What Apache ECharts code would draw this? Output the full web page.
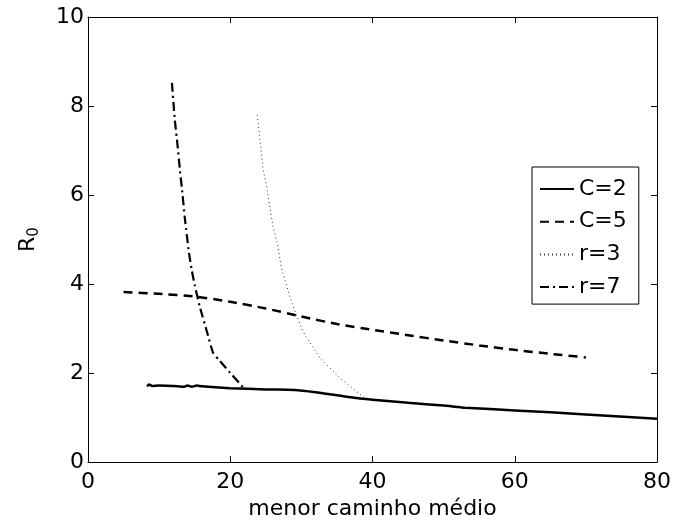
<!DOCTYPE html>
<html>
<head>
<meta charset="utf-8">
<script src="https://cdn.jsdelivr.net/npm/echarts@6/dist/echarts.min.js"></script>
<style>
  html, body { margin: 0; padding: 0; background: #fff; }
  #chart { width: 674px; height: 525px; }
</style>
</head>
<body>
<div id="chart"></div>
<script>
// Average shortest path length vs R0 for four network models
const xTicks = [0, 20, 40, 60, 80];
const yTicks = [0, 2, 4, 6, 8, 10];

const c2X = [8.3, 8.6, 9.0, 10.0, 12.0, 13.5, 14.0, 14.6, 15.3, 16.0, 20.0, 25.0, 29.0, 32.0, 35.0, 38.0, 40.0, 45.0, 50.0, 53.0, 60.0, 70.0, 80.0];
const c2Y = [1.70, 1.74, 1.71, 1.72, 1.71, 1.69, 1.72, 1.69, 1.72, 1.70, 1.66, 1.63, 1.62, 1.57, 1.50, 1.43, 1.40, 1.33, 1.27, 1.22, 1.16, 1.07, 0.97];

const c5X = [5, 10, 15, 20, 25, 30, 35, 40, 45, 50, 55, 60, 65, 70];
const c5Y = [3.82, 3.78, 3.72, 3.60, 3.45, 3.27, 3.10, 2.97, 2.85, 2.73, 2.62, 2.52, 2.43, 2.35];

const r3X = [23.8, 24.2, 24.6, 25.1, 25.5, 26.0, 26.7, 27.2, 27.9, 28.6, 29.8, 30.5, 32.7, 35.6, 38.8];
const r3Y = [7.80, 7.20, 6.60, 6.20, 5.80, 5.30, 4.85, 4.35, 3.98, 3.60, 3.10, 2.85, 2.32, 1.86, 1.45];

const r7X = [11.8, 12.2, 12.6, 12.9, 13.3, 13.6, 14.2, 14.6, 15.0, 15.7, 16.7, 17.6, 18.5, 20.0, 21.8];
const r7Y = [8.52, 7.70, 7.10, 6.60, 6.00, 5.50, 4.70, 4.30, 3.98, 3.50, 2.94, 2.45, 2.28, 2.00, 1.68];

const names = ['C=2', 'C=5', 'r=3', 'r=7'];

const zip = (xs, ys) => xs.map((x, i) => [x, ys[i]]);

const FONT = "'DejaVu Sans', Verdana, sans-serif";

const frameAxis = {
  axisLine: { show: true, onZero: false, lineStyle: { color: '#000', width: 1 } },
  axisTick: { show: true, inside: true, length: 6, lineStyle: { color: '#000' } },
  splitLine: { show: false }
};

const chart = echarts.init(document.getElementById('chart'), null, { renderer: 'canvas' });

chart.setOption({
  backgroundColor: '#fff',
  animation: false,
  textStyle: { fontFamily: FONT },
  grid: { left: 88, right: 16, top: 17, bottom: 60, containLabel: false },
  legend: {
    left: 532, top: 167,
    orient: 'vertical',
    backgroundColor: '#fff',
    borderColor: '#000', borderWidth: 1,
    padding: [10, 12, 5, 7],
    itemGap: 8.7,
    itemWidth: 34, itemHeight: 14,
    itemStyle: { opacity: 0 },
    textStyle: { fontFamily: FONT, fontSize: 22, color: '#000', lineHeight: 24 },
    data: names
  },
  xAxis: [
    Object.assign({
      type: 'value', position: 'bottom', min: xTicks[0], max: xTicks[xTicks.length - 1], interval: 20,
      name: 'menor caminho médio', nameLocation: 'middle', nameGap: 36,
      nameTextStyle: { fontFamily: FONT, fontSize: 22, color: '#000' },
      axisLabel: { fontFamily: FONT, fontSize: 22, color: '#000', margin: 9 }
    }, frameAxis),
    Object.assign({
      type: 'value', position: 'top', min: xTicks[0], max: xTicks[xTicks.length - 1], interval: 20,
      axisLabel: { show: false }
    }, frameAxis)
  ],
  yAxis: [
    Object.assign({
      type: 'value', position: 'left', min: yTicks[0], max: yTicks[yTicks.length - 1], interval: 2,
      name: '{r|R}{s|0}', nameLocation: 'middle', nameGap: 46,
      nameTextStyle: {
        rich: {
          r: { fontFamily: FONT, fontSize: 22, color: '#000' },
          s: { fontFamily: FONT, fontSize: 15, color: '#000', padding: [12, 0, 0, 0] }
        }
      },
      axisLabel: { fontFamily: FONT, fontSize: 22, color: '#000', margin: 4 }
    }, frameAxis),
    Object.assign({
      type: 'value', position: 'right', min: yTicks[0], max: yTicks[yTicks.length - 1], interval: 2,
      axisLabel: { show: false }
    }, frameAxis)
  ],
  series: [
    {
      name: names[0], type: 'line', data: zip(c2X, c2Y), symbol: 'none', smooth: 0.2,
      lineStyle: { color: '#000', width: 2.5, type: 'solid' }, itemStyle: { color: '#000' }
    },
    {
      name: names[1], type: 'line', data: zip(c5X, c5Y), symbol: 'none', smooth: 0.2,
      lineStyle: { color: '#000', width: 2.5, type: [9, 6] }, itemStyle: { color: '#000' }
    },
    {
      name: names[2], type: 'line', data: zip(r3X, r3Y), symbol: 'none',
      lineStyle: { color: '#333', width: 1, type: [1, 3] }, itemStyle: { color: '#333' }
    },
    {
      name: names[3], type: 'line', data: zip(r7X, r7Y), symbol: 'none', smooth: 0.2,
      lineStyle: { color: '#000', width: 2.2, type: [9, 4, 2, 4] }, itemStyle: { color: '#000' }
    }
  ]
});
</script>
</body>
</html>
